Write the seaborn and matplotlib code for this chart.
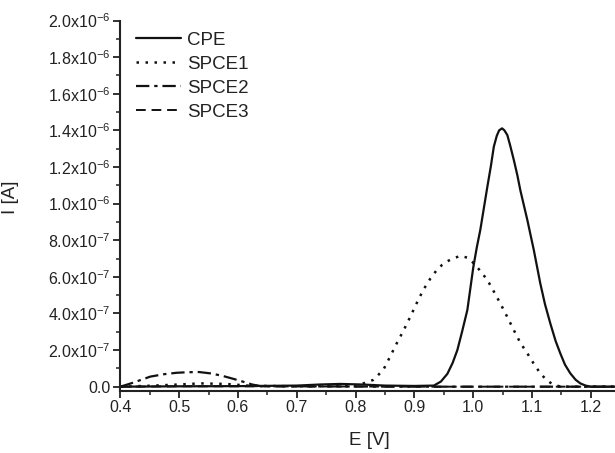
import matplotlib
matplotlib.use("Agg")
import matplotlib.pyplot as plt
import seaborn as sns
import numpy as np
from matplotlib.ticker import FixedLocator, FuncFormatter, MultipleLocator

# ---- data ----
cpe_E = [0.40, 0.50, 0.60, 0.70, 0.74, 0.774, 0.81, 0.85, 0.90, 0.933, 0.945, 0.956, 0.965,
         0.973, 0.981, 0.990, 1.000, 1.006, 1.012, 1.024, 1.030, 1.035, 1.040, 1.044, 1.049,
         1.053, 1.058, 1.063, 1.069, 1.075, 1.080, 1.092, 1.103, 1.114, 1.122, 1.131, 1.140,
         1.148, 1.156, 1.165, 1.174, 1.182, 1.191, 1.200, 1.241]
cpe_I = [0.000, 0.002e-6, 0.003e-6, 0.006e-6, 0.012e-6, 0.015e-6, 0.012e-6, 0.006e-6, 0.004e-6,
         0.006e-6, 0.028e-6, 0.070e-6, 0.130e-6, 0.200e-6, 0.300e-6, 0.419e-6, 0.650e-6,
         0.760e-6, 0.856e-6, 1.092e-6, 1.205e-6, 1.311e-6, 1.370e-6, 1.400e-6, 1.411e-6,
         1.400e-6, 1.374e-6, 1.315e-6, 1.238e-6, 1.155e-6, 1.074e-6, 0.910e-6, 0.746e-6,
         0.564e-6, 0.450e-6, 0.346e-6, 0.250e-6, 0.182e-6, 0.120e-6, 0.073e-6, 0.038e-6,
         0.018e-6, 0.006e-6, 0.000, 0.000]

spce1_E = [0.40, 0.45, 0.50, 0.536, 0.58, 0.62, 0.70, 0.80, 0.830, 0.847, 0.858, 0.870, 0.882,
           0.893, 0.904, 0.915, 0.927, 0.938, 0.947, 0.956, 0.966, 0.978, 0.990, 0.998, 1.010,
           1.024, 1.035, 1.046, 1.058, 1.069, 1.080, 1.092, 1.103, 1.114, 1.125, 1.137, 1.150, 1.241]
spce1_I = [0.000, 0.005e-6, 0.012e-6, 0.018e-6, 0.015e-6, 0.005e-6, 0.002e-6, 0.003e-6, 0.037e-6,
           0.091e-6, 0.160e-6, 0.237e-6, 0.310e-6, 0.382e-6, 0.457e-6, 0.528e-6, 0.590e-6,
           0.637e-6, 0.665e-6, 0.685e-6, 0.701e-6, 0.714e-6, 0.705e-6, 0.683e-6, 0.640e-6,
           0.583e-6, 0.520e-6, 0.455e-6, 0.380e-6, 0.309e-6, 0.240e-6, 0.182e-6, 0.125e-6,
           0.073e-6, 0.035e-6, 0.009e-6, 0.000, 0.000]

spce2_E = [0.40, 0.420, 0.436, 0.451, 0.474, 0.496, 0.515, 0.534, 0.555, 0.575, 0.592, 0.609,
           0.624, 0.638, 0.70, 0.80, 0.90, 1.00, 1.10, 1.241]
spce2_I = [0.000, 0.020e-6, 0.038e-6, 0.055e-6, 0.068e-6, 0.076e-6, 0.079e-6, 0.080e-6,
           0.072e-6, 0.058e-6, 0.043e-6, 0.027e-6, 0.012e-6, 0.003e-6, 0.002e-6, 0.001e-6,
           0.000, 0.000, 0.000, 0.000]

spce3_E = [0.40, 0.50, 0.60, 0.70, 0.80, 0.90, 1.00, 1.10, 1.20, 1.241]
spce3_I = [0.000, 0.002e-6, 0.002e-6, 0.001e-6, 0.001e-6, 0.000, 0.000, 0.000, 0.000, 0.000]

series_names = ["CPE", "SPCE1", "SPCE2", "SPCE3"]
x_ticks = [0.4, 0.5, 0.6, 0.7, 0.8, 0.9, 1.0, 1.1, 1.2]
y_ticks = [0.0, 2e-7, 4e-7, 6e-7, 8e-7, 1e-6, 1.2e-6, 1.4e-6, 1.6e-6, 1.8e-6, 2e-6]

# ---- style ----
sns.set_theme(style="ticks")
plt.rcParams['font.family'] = ['Liberation Sans', 'DejaVu Sans']
plt.rcParams['mathtext.fontset'] = 'custom'
plt.rcParams['mathtext.rm'] = 'Liberation Sans'
plt.rcParams['mathtext.it'] = 'Liberation Sans:italic'
plt.rcParams['mathtext.bf'] = 'Liberation Sans:bold'

fig = plt.figure(figsize=(6.15, 4.53), dpi=100)
ax = fig.add_axes([0.1956, 0.1375, 0.8044, 0.8172])

styles = ["-", (0, (1, 2.6)), (0, (6, 2.2, 1.5, 2.2)), (0, (5, 3))]
widths = [1.6, 1.8, 1.6, 1.4]
data = [(cpe_E, cpe_I), (spce1_E, spce1_I), (spce2_E, spce2_I), (spce3_E, spce3_I)]
for (xs, ys), name, ls, lw in zip(data, series_names, styles, widths):
    sns.lineplot(x=xs, y=ys, ax=ax, color="#111111", linestyle=ls, linewidth=lw,
                 label=name, estimator=None, sort=False)

ax.set_xlim(0.4, 1.241)
ax.set_ylim(-2.2e-8, 2.0e-6)

ax.xaxis.set_major_locator(FixedLocator(x_ticks))
ax.xaxis.set_minor_locator(MultipleLocator(0.05))
ax.yaxis.set_major_locator(FixedLocator(y_ticks))
ax.yaxis.set_minor_locator(MultipleLocator(1e-7))


def yfmt(v, pos):
    if abs(v) < 1e-12:
        return "0.0"
    exp = int(np.floor(np.log10(abs(v))))
    mant = v / 10 ** exp
    return r"%.1fx10$^{\mathregular{%d}}$" % (mant, exp)


ax.yaxis.set_major_formatter(FuncFormatter(yfmt))
ax.xaxis.set_major_formatter(FuncFormatter(lambda v, p: "%.1f" % v))

for s in ["top", "right"]:
    ax.spines[s].set_visible(False)
for s in ["left", "bottom"]:
    ax.spines[s].set_linewidth(1.5)
    ax.spines[s].set_color("#222222")

ax.tick_params(axis="both", which="major", direction="out", length=5, width=1.3,
               labelsize=11.5, colors="#222222", pad=2)
ax.tick_params(axis="both", which="minor", direction="out", length=3, width=1.1, colors="#222222")

ax.set_xlabel("E [V]", fontsize=13.5, color="#222222")
ax.set_ylabel("I [A]", fontsize=13.5, color="#222222")
ax.xaxis.set_label_coords(0.503, -0.111)
ax.yaxis.set_label_coords(-0.205, 0.523)

leg = ax.legend(loc="upper left", bbox_to_anchor=(0.009, 1.0), frameon=False, fontsize=13.5,
                handlelength=2.4, handletextpad=0.3, labelspacing=0.36, borderaxespad=0.2)
for t in leg.get_texts():
    t.set_color("#222222")

fig.savefig("out.png", dpi=100)
